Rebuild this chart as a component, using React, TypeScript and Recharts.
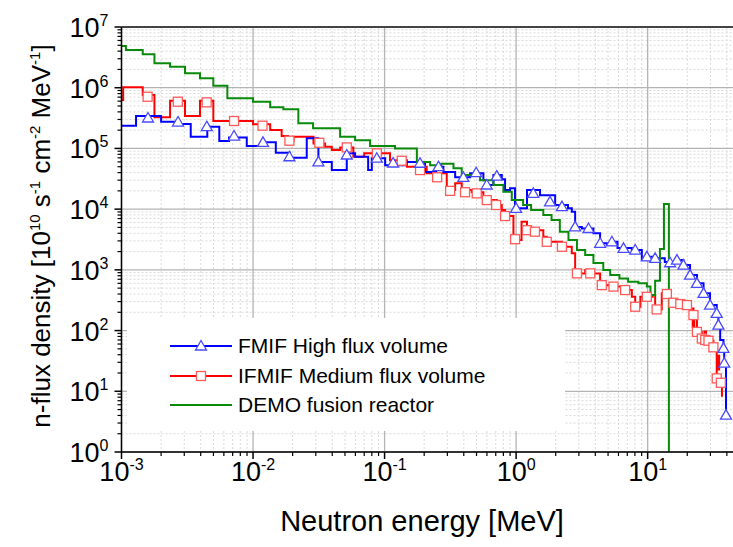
import {
  ComposedChart,
  Line,
  Scatter,
  XAxis,
  YAxis,
  CartesianGrid,
  ReferenceLine,
  Label,
} from "recharts";

// step data: lower bin edge [MeV] and flux density
const FMIF_E = [0.001, 0.00129, 0.002, 0.00274, 0.00336, 0.00449, 0.00554, 0.00657, 0.00896, 0.012, 0.0149, 0.0191, 0.0256, 0.0314, 0.0397, 0.0516, 0.0597, 0.075, 0.08, 0.101, 0.143, 0.203, 0.247, 0.28, 0.344, 0.447, 0.564, 0.59, 0.672, 0.778, 0.824, 0.9, 0.98, 1.21, 1.52, 1.98, 2.48, 2.65, 2.81, 3.16, 3.87, 4.35, 4.9, 5.35, 5.9, 7.58, 9.03, 9.86, 11.4, 13.5, 16.7, 18.7, 21.0, 23.7, 26.6, 29.8, 33.5, 34.5, 35.6, 37.7, 38.2, 39.4];
const FMIF_V = [2.37e5, 3.42e5, 2.75e5, 2.52e5, 1.56e5, 2.28e5, 1.32e5, 1.52e5, 1.1e5, 1.26e5, 8.5e4, 7.0e4, 1.47e5, 6.0e4, 4.4e4, 8.3e4, 7.3e4, 4.4e4, 6.9e4, 5.3e4, 6.0e4, 4.1e4, 5.0e4, 4.1e4, 3.34e4, 3.9e4, 3.0e4, 2.5e4, 3.65e4, 3.1e4, 2.07e4, 2.2e4, 1.03e4, 2.07e4, 1.7e4, 1.17e4, 1.03e4, 9.1e3, 5.1e3, 4.8e3, 4.0e3, 2.74e3, 2.56e3, 2.9e3, 2.3e3, 2.12e3, 1.45e3, 1.64e3, 1.55e3, 1.35e3, 1.45e3, 1.2e3, 820, 600, 410, 263, 192, 123, 70, 51, 29, 4.06];

const IFMIF_E = [0.001, 0.00103, 0.00145, 0.00178, 0.00234, 0.00304, 0.00395, 0.00499, 0.01, 0.0135, 0.0165, 0.0185, 0.0203, 0.0288, 0.0353, 0.0397, 0.046, 0.0579, 0.07, 0.11, 0.148, 0.209, 0.297, 0.344, 0.386, 0.46, 0.564, 0.713, 0.778, 0.824, 0.954, 1.1, 1.21, 1.61, 1.71, 2.23, 2.65, 2.81, 3.35, 3.87, 4.35, 5.5, 6.55, 7.58, 8.04, 8.8, 10.9, 11.4, 12.8, 15.0, 17.7, 19.9, 21.0, 22.3, 23.7, 25.8, 27.4, 29.0, 31.6, 33.5, 36.0, 36.7];
const IFMIF_V = [6.27e5, 1.02e6, 7.6e5, 3.25e5, 6.1e5, 3.42e5, 6.1e5, 2.83e5, 2.5e5, 2.01e5, 1.6e5, 1.34e5, 1.56e5, 1.21e5, 1.07e5, 9.4e4, 1.04e5, 7.3e4, 8.3e4, 6.4e4, 5.0e4, 3.9e4, 2.07e4, 2.66e4, 2.07e4, 1.9e4, 1.41e4, 1.17e4, 9.7e3, 7.7e3, 3.1e3, 6.2e3, 4.5e3, 3.5e3, 2.9e3, 2.4e3, 1.87e3, 875, 990, 875, 560, 530, 465, 360, 247, 360, 385, 223, 410, 287, 273, 263, 232, 180, 95, 74, 70, 68, 53, 16.3, 13.8, 8.1];

const DEMO_E = [0.001, 0.00108, 0.00145, 0.00178, 0.00234, 0.00304, 0.00395, 0.00499, 0.00638, 0.01, 0.0135, 0.017, 0.0221, 0.0286, 0.0459, 0.0597, 0.0776, 0.12, 0.176, 0.222, 0.27, 0.334, 0.386, 0.532, 0.672, 0.8, 0.927, 1.13, 1.3, 1.61, 1.86, 2.15, 2.5, 2.9, 3.35, 3.87, 4.6, 5.19, 6.1, 7.1, 8.5, 9.86, 10.5, 11.4, 12.4, 13.3, 14.5];
const DEMO_V = [4.86e6, 4.18e6, 3.55e6, 2.52e6, 2.22e6, 1.73e6, 1.43e6, 1.08e6, 6.7e5, 5.9e5, 4.75e5, 4.4e5, 2.6e5, 2.14e5, 1.56e5, 1.37e5, 1.1e5, 1.0e5, 6.0e4, 5.3e4, 5.6e4, 4.7e4, 3.65e4, 3.0e4, 2.5e4, 1.94e4, 1.41e4, 1.17e4, 9.7e3, 8.0e3, 6.6e3, 4.25e3, 3.1e3, 2.12e3, 1.75e3, 1.3e3, 990, 820, 720, 640, 600, 530, 380, 660, 2.2e3, 1.21e4, 0.1];

// marker points (symbols drawn on the curves)
const FMIF_MARK_E = [0.00159, 0.00269, 0.00445, 0.00717, 0.0119, 0.0189, 0.0314, 0.0516, 0.0873, 0.116, 0.186, 0.257, 0.397, 0.497, 0.598, 0.713, 1.0, 1.35, 1.81, 2.23, 2.81, 3.55, 4.35, 5.35, 6.55, 8.04, 9.86, 11.4, 14.8, 16.7, 18.7, 21.0, 23.7, 26.6, 29.8, 33.5, 34.5, 37.7, 38.2, 39.4];
const FMIF_MARK_V = [3.17e5, 2.72e5, 2.28e5, 1.6e5, 1.26e5, 7.3e4, 6.0e4, 7.8e4, 6.9e4, 5.75e4, 5.7e4, 5.0e4, 3.34e4, 3.98e4, 2.5e4, 3.5e4, 1.03e4, 1.82e4, 1.32e4, 1.1e4, 5.1e3, 4.8e3, 2.74e3, 2.9e3, 2.26e3, 2.12e3, 1.64e3, 1.55e3, 1.31e3, 1.45e3, 1.2e3, 820, 600, 410, 263, 192, 123, 51, 29, 4.06];

const IFMIF_MARK_E = [0.00158, 0.00268, 0.00444, 0.00717, 0.0118, 0.0189, 0.0319, 0.0516, 0.0873, 0.135, 0.186, 0.251, 0.315, 0.409, 0.502, 0.598, 0.705, 0.824, 0.982, 1.21, 1.39, 1.71, 2.23, 2.9, 3.66, 4.48, 5.5, 6.74, 8.04, 9.86, 11.7, 14.0, 15.7, 17.7, 19.9, 22.3, 23.7, 25.8, 27.4, 29.0, 31.6, 33.5, 36.0];
const IFMIF_MARK_V = [7.1e5, 5.88e5, 5.74e5, 2.83e5, 2.37e5, 1.34e5, 1.24e5, 1.04e5, 8.3e4, 6.27e4, 4.4e4, 3.35e4, 2.0e4, 1.9e4, 1.82e4, 1.41e4, 1.17e4, 7.7e3, 3.2e3, 4.5e3, 4.25e3, 2.9e3, 2.4e3, 875, 875, 560, 530, 465, 247, 360, 223, 400, 287, 273, 263, 180, 95, 74, 70, 68, 53, 16.3, 13.8];

// short thick red spikes near the high-energy tail (energy, low, high)
const IFMIF_SPIKE_E = [22.3, 27.4, 34.5];
const IFMIF_SPIKE_LO = [110, 62, 22];
const IFMIF_SPIKE_HI = [200, 100, 40];

const SERIES_NAMES = ["FMIF High flux volume", "IFMIF Medium flux volume", "DEMO fusion reactor"];

const X_MAJOR = [0.001, 0.01, 0.1, 1, 10];
const Y_MAJOR = [1, 10, 100, 1e3, 1e4, 1e5, 1e6, 1e7];
const MULT = [2, 3, 4, 5, 6, 7, 8, 9];

const X_MINOR = X_MAJOR.flatMap((d) => MULT.map((m) => +(m * d).toPrecision(6))).filter((v) => v < 50);
const Y_MINOR = Y_MAJOR.slice(0, -1).flatMap((d) => MULT.map((m) => m * d));
const X_TICKS = [...X_MAJOR, ...X_MINOR].sort((a, b) => a - b);
const Y_TICKS = [...Y_MAJOR, ...Y_MINOR].sort((a, b) => a - b);

const zip = (es: number[], vs: number[]) => es.map((e, i) => ({ e, v: vs[i] }));

const fmif = zip(FMIF_E, FMIF_V);
const ifmif = zip(IFMIF_E, IFMIF_V);
const demo = zip(DEMO_E, DEMO_V);
const fmifMarks = zip(FMIF_MARK_E, FMIF_MARK_V);
const ifmifMarks = zip(IFMIF_MARK_E, IFMIF_MARK_V);
const spikes = IFMIF_SPIKE_E.map((e, i) => [
  { e, v: IFMIF_SPIKE_LO[i] },
  { e, v: IFMIF_SPIKE_HI[i] },
]);

const C = {
  blue: "#0000ff",
  blueMark: "#4a4aff",
  red: "#ff0000",
  redMark: "#ff5a5a",
  green: "#0a8a0a",
  major: "#b4b4b4",
  minor: "#dadada",
};

const FONT = "'Liberation Sans', Arial, Helvetica, sans-serif";

function expOf(v: number) {
  const l = Math.log10(v);
  const r = Math.round(l);
  return Math.abs(l - r) < 1e-6 ? r : null;
}

function XTick({ x, y, payload }: any) {
  const ex = expOf(payload.value);
  if (ex === null) {
    return <line x1={x} y1={y} x2={x} y2={y + 4} stroke="#000" strokeWidth={1.2} />;
  }
  return (
    <g>
      <line x1={x} y1={y} x2={x} y2={y + 7} stroke="#000" strokeWidth={1.5} />
      <text x={x} y={y + 29} textAnchor="middle" fontSize={27} fontFamily={FONT} fill="#000">
        <tspan>10</tspan>
        <tspan dy={-11} fontSize={16}>{ex}</tspan>
      </text>
    </g>
  );
}

function YTick({ x, y, payload }: any) {
  const ex = expOf(payload.value);
  if (ex === null) {
    return <line x1={x} y1={y} x2={x - 4} y2={y} stroke="#000" strokeWidth={1.2} />;
  }
  return (
    <g>
      <line x1={x} y1={y} x2={x - 7} y2={y} stroke="#000" strokeWidth={1.5} />
      <text x={x - 13} y={y + 10} textAnchor="end" fontSize={27} fontFamily={FONT} fill="#000">
        <tspan>10</tspan>
        <tspan dy={-11} fontSize={16}>{ex}</tspan>
      </text>
    </g>
  );
}

function Triangle({ cx, cy }: any) {
  if (cx == null || cy == null) return null;
  return (
    <path
      d={`M${cx},${cy - 5.5} L${cx + 5.5},${cy + 4} L${cx - 5.5},${cy + 4} Z`}
      fill="#fff"
      stroke={C.blueMark}
      strokeWidth={1.3}
    />
  );
}

function Square({ cx, cy }: any) {
  if (cx == null || cy == null) return null;
  return <rect x={cx - 4.5} y={cy - 4.5} width={9} height={9} fill="#fff" stroke={C.redMark} strokeWidth={1.3} />;
}

function LegendBox() {
  const rows = [
    { color: C.blue, mark: "tri" },
    { color: C.red, mark: "sq" },
    { color: C.green, mark: null },
  ];
  return (
    <div style={{ position: "absolute", left: 127, top: 318, width: 438, height: 113, background: "#fff" }}>
      {rows.map((r, i) => (
        <div key={i} style={{ position: "absolute", left: 0, top: 14 + i * 29.5, height: 28, width: 438 }}>
          <svg width={64} height={28} style={{ position: "absolute", left: 42, top: 0 }}>
            <line x1={1} y1={14} x2={63} y2={14} stroke={r.color} strokeWidth={2} />
            {r.mark === "tri" && <Triangle cx={32} cy={14} />}
            {r.mark === "sq" && <Square cx={32} cy={14} />}
          </svg>
          <span
            style={{
              position: "absolute",
              left: 111,
              top: 0,
              lineHeight: "28px",
              fontSize: 21,
              fontFamily: FONT,
              color: "#000",
              whiteSpace: "nowrap",
            }}
          >
            {SERIES_NAMES[i]}
          </span>
        </div>
      ))}
    </div>
  );
}

const sup = { dy: -10, fontSize: 15 };

export default function App() {
  return (
    <div style={{ position: "absolute", left: 0, top: 0, width: 733, height: 547, overflow: "hidden", background: "#fff" }}>
      <ComposedChart width={760} height={547} margin={{ top: 27, right: 20.4, bottom: 0, left: 0.5 }}>
        <CartesianGrid
          horizontalValues={Y_MINOR}
          verticalValues={X_MINOR}
          stroke={C.minor}
          strokeDasharray="2 2"
          strokeWidth={1}
        />
        <CartesianGrid
          horizontalValues={Y_MAJOR}
          verticalValues={X_MAJOR}
          stroke={C.major}
          strokeWidth={1.3}
        />
        <XAxis
          type="number"
          dataKey="e"
          scale="log"
          domain={[0.001, 50]}
          allowDataOverflow
          ticks={X_TICKS}
          interval={0}
          tick={(p: any) => <XTick {...p} />}
          tickLine={false}
          tickSize={0}
          tickMargin={0}
          axisLine={{ stroke: "#000", strokeWidth: 1.5 }}
          height={95}
        >
          <Label
            content={() => (
              <text x={422} y={531} textAnchor="middle" fontSize={29} fontFamily={FONT} fill="#000">
                Neutron energy [MeV]
              </text>
            )}
          />
        </XAxis>
        <YAxis
          type="number"
          dataKey="v"
          scale="log"
          domain={[1, 1e7]}
          allowDataOverflow
          ticks={Y_TICKS}
          interval={0}
          tick={(p: any) => <YTick {...p} />}
          tickLine={false}
          tickSize={0}
          tickMargin={0}
          axisLine={{ stroke: "#000", strokeWidth: 1.5 }}
          width={121}
        >
          <Label
            content={() => (
              <text
                x={50}
                y={236}
                transform="rotate(-90 50 236)"
                textAnchor="middle"
                fontSize={26}
                fontFamily={FONT}
                fill="#000"
              >
                n-flux density [10
                <tspan {...sup}>10</tspan>
                <tspan dy={10}> s</tspan>
                <tspan {...sup}>-1</tspan>
                <tspan dy={10}> cm</tspan>
                <tspan {...sup}>-2</tspan>
                <tspan dy={10}> MeV</tspan>
                <tspan {...sup}>-1</tspan>
                <tspan dy={10}>]</tspan>
              </text>
            )}
          />
        </YAxis>
        <ReferenceLine y={1e7} stroke="#444" strokeWidth={2} />

        <Line data={ifmif} dataKey="v" type="stepAfter" stroke={C.red} strokeWidth={2} dot={false} isAnimationActive={false} />
        {spikes.map((s, i) => (
          <Line key={i} data={s} dataKey="v" type="linear" stroke={C.red} strokeWidth={3.5} dot={false} isAnimationActive={false} />
        ))}
        <Line data={fmif} dataKey="v" type="stepAfter" stroke={C.blue} strokeWidth={2} dot={false} isAnimationActive={false} />
        <Line data={demo} dataKey="v" type="stepAfter" stroke={C.green} strokeWidth={2} dot={false} isAnimationActive={false} />
        <Scatter data={ifmifMarks} dataKey="v" shape={(p: any) => <Square {...p} />} isAnimationActive={false} />
        <Scatter data={fmifMarks} dataKey="v" shape={(p: any) => <Triangle {...p} />} isAnimationActive={false} />
      </ComposedChart>
      <LegendBox />
    </div>
  );
}
